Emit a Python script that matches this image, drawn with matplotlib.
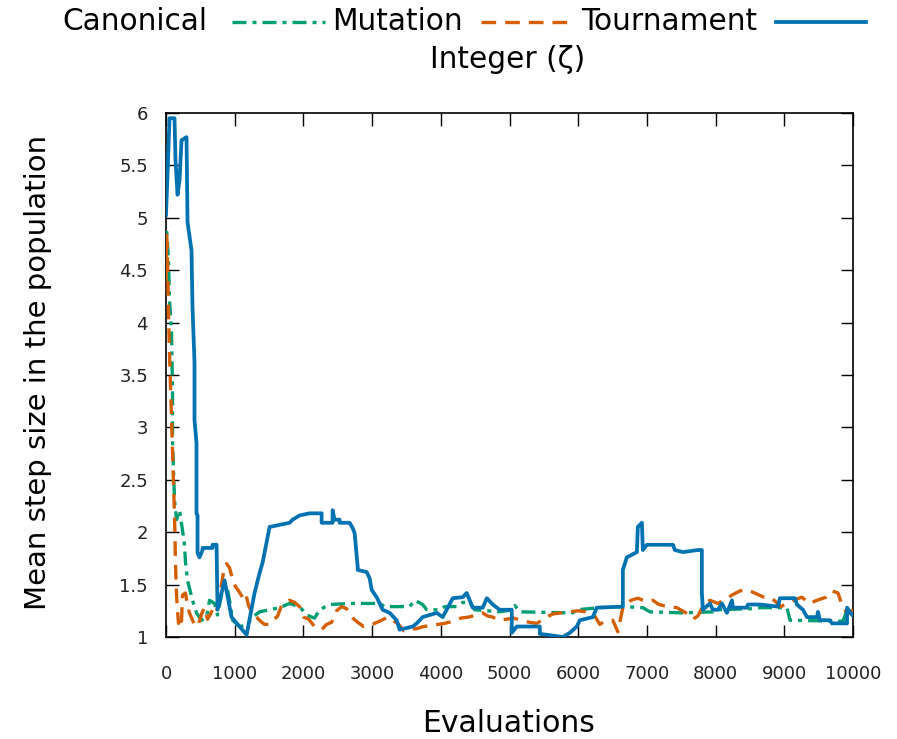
import matplotlib
matplotlib.use("Agg")
import matplotlib.pyplot as plt
from matplotlib.lines import Line2D

# ---------------- data ----------------
tour_x = [0, 22, 51, 124, 138, 168, 197, 226, 299, 313, 371, 386, 415, 415, 444, 444, 459, 459,
          488, 532, 532, 677, 677, 736, 750, 852, 954, 1173, 1289, 1362, 1406, 1508, 1799, 1843,
          1945, 2090, 2265, 2265, 2425, 2425, 2454, 2527, 2527, 2673, 2717, 2746, 2790, 2790,
          2921, 2964, 2994, 3066, 3154, 3256, 3358, 3401, 3591, 3649, 3736, 3940, 4028, 4174,
          4319, 4377, 4421, 4465, 4610, 4669, 4756, 4858, 5033, 5033, 5106, 5441, 5441, 5776,
          5878, 5980, 6024, 6213, 6271, 6650, 6650, 6708, 6854, 6868, 6927, 6941, 7000, 7378,
          7407, 7524, 7742, 7800, 7800, 7815, 7917, 7961, 8034, 8092, 8165, 8238, 8252, 8456,
          8470, 8645, 8907, 8936, 9155, 9184, 9272, 9330, 9476, 9490, 9519, 9665, 9694, 9913,
          9913, 9985, 10000]
tour_y = [5.03, 5.41, 5.95, 5.95, 5.55, 5.22, 5.36, 5.74, 5.77, 4.96, 4.69, 4.14, 3.62, 3.07,
          2.85, 2.18, 2.16, 1.80, 1.76, 1.83, 1.85, 1.85, 1.88, 1.88, 1.26, 1.54, 1.19, 1.02,
          1.42, 1.61, 1.71, 2.05, 2.09, 2.12, 2.16, 2.18, 2.18, 2.09, 2.09, 2.21, 2.12, 2.12,
          2.09, 2.09, 2.04, 1.99, 1.67, 1.64, 1.62, 1.56, 1.45, 1.38, 1.26, 1.23, 1.16, 1.07,
          1.10, 1.13, 1.19, 1.23, 1.19, 1.37, 1.38, 1.42, 1.35, 1.28, 1.28, 1.37, 1.31, 1.26,
          1.26, 1.04, 1.10, 1.10, 1.03, 1.00, 1.04, 1.10, 1.16, 1.19, 1.28, 1.29, 1.64, 1.76,
          1.81, 2.05, 2.09, 1.83, 1.88, 1.88, 1.83, 1.81, 1.83, 1.83, 1.42, 1.26, 1.32, 1.26,
          1.26, 1.32, 1.23, 1.35, 1.28, 1.28, 1.31, 1.31, 1.29, 1.37, 1.37, 1.31, 1.26, 1.19,
          1.19, 1.24, 1.16, 1.16, 1.13, 1.13, 1.28, 1.21, 1.21]

canon_x = [0, 7, 36, 51, 80, 95, 95, 109, 124, 153, 197, 240, 269, 284, 313, 386, 444, 517, 590,
           634, 706, 750, 823, 881, 925, 969, 1071, 1173, 1260, 1362, 1508, 1653, 1799, 1945,
           2047, 2163, 2236, 2381, 2673, 3110, 3183, 3547, 3620, 3736, 3795, 3984, 4057, 4232,
           4319, 4421, 4494, 4858, 5047, 5077, 5150, 5921, 5980, 6315, 6650, 6941, 7043, 7524,
           7961, 7990, 8543, 8645, 9039, 9083, 9854, 9898, 10000]
canon_y = [4.74, 4.90, 4.60, 4.22, 3.91, 3.36, 2.88, 2.59, 2.31, 2.12, 2.21, 2.02, 1.88, 1.71,
           1.54, 1.35, 1.23, 1.16, 1.19, 1.35, 1.32, 1.21, 1.45, 1.50, 1.35, 1.16, 1.10, 1.11,
           1.19, 1.24, 1.26, 1.28, 1.32, 1.29, 1.21, 1.18, 1.26, 1.31, 1.32, 1.32, 1.29, 1.29,
           1.35, 1.31, 1.26, 1.26, 1.29, 1.29, 1.33, 1.33, 1.26, 1.24, 1.26, 1.30, 1.24, 1.23,
           1.26, 1.28, 1.29, 1.28, 1.24, 1.23, 1.24, 1.26, 1.27, 1.28, 1.28, 1.16, 1.15, 1.23,
           1.23]

mut_x = [0, 10, 22, 36, 51, 65, 80, 95, 109, 124, 131, 138, 146, 153, 168, 182, 197, 226, 240,
         284, 313, 342, 386, 430, 473, 517, 561, 605, 648, 692, 736, 794, 838, 881, 925, 969,
         1012, 1056, 1114, 1158, 1202, 1260, 1318, 1377, 1435, 1508, 1566, 1624, 1682, 1740,
         1799, 1872, 1945, 2003, 2076, 2163, 2265, 2338, 2410, 2483, 2556, 2629, 2702, 2790,
         2877, 2950, 3037, 3139, 3227, 3300, 3387, 3460, 3547, 3649, 3751, 3853, 3955, 4057,
         4174, 4290, 4406, 4523, 4610, 4683, 4756, 4844, 4960, 5062, 5164, 5296, 5398, 5514,
         5630, 5747, 5863, 5994, 6125, 6242, 6315, 6388, 6504, 6577, 6650, 6766, 6868, 6985,
         7087, 7175, 7305, 7436, 7567, 7669, 7742, 7829, 7917, 8034, 8150, 8238, 8354, 8470,
         8600, 8703, 8819, 8950, 9068, 9170, 9257, 9359, 9476, 9607, 9694, 9781, 9854, 9927,
         10000]
mut_y = [4.40, 4.85, 4.60, 4.10, 3.70, 3.40, 3.05, 2.75, 2.45, 2.15, 1.95, 1.70, 1.55, 1.40,
         1.25, 1.13, 1.20, 1.15, 1.40, 1.42, 1.30, 1.23, 1.16, 1.10, 1.12, 1.22, 1.28, 1.17,
         1.22, 1.28, 1.24, 1.45, 1.62, 1.70, 1.66, 1.55, 1.48, 1.44, 1.38, 1.42, 1.30, 1.22,
         1.19, 1.15, 1.12, 1.12, 1.16, 1.20, 1.30, 1.33, 1.35, 1.33, 1.29, 1.19, 1.17, 1.10,
         1.07, 1.12, 1.14, 1.25, 1.29, 1.27, 1.19, 1.14, 1.10, 1.11, 1.13, 1.16, 1.19, 1.16,
         1.12, 1.06, 1.07, 1.08, 1.10, 1.11, 1.12, 1.13, 1.15, 1.18, 1.19, 1.21, 1.23, 1.20,
         1.19, 1.16, 1.17, 1.18, 1.16, 1.14, 1.13, 1.18, 1.22, 1.23, 1.24, 1.25, 1.24, 1.20,
         1.12, 1.15, 1.16, 1.05, 1.28, 1.35, 1.37, 1.34, 1.35, 1.31, 1.29, 1.28, 1.23, 1.17,
         1.20, 1.31, 1.35, 1.32, 1.36, 1.40, 1.44, 1.45, 1.41, 1.38, 1.37, 1.29, 1.33, 1.36,
         1.38, 1.32, 1.35, 1.38, 1.44, 1.42, 1.28, 1.22, 1.26]

series_labels = ["Canonical", "Mutation", "Tournament"]
legend_extra = "Integer (\u03b6)"
x_ticks = [0, 1000, 2000, 3000, 4000, 5000, 6000, 7000, 8000, 9000, 10000]
y_ticks = [1, 1.5, 2, 2.5, 3, 3.5, 4, 4.5, 5, 5.5, 6]
y_ticklabels = ["1", "1.5", "2", "2.5", "3", "3.5", "4", "4.5", "5", "5.5", "6"]

GREEN = "#009e73"
ORANGE = "#d55e00"
BLUE = "#0072b2"
GREEN_DASH = (4.2, 1.8, 1.2, 1.8)
ORANGE_DASH = (4.4, 2.7)

W, H = 897, 739
fig = plt.figure(figsize=(W / 100, H / 100), dpi=100)
ax = fig.add_axes([166 / W, 1 - 637 / H, (853 - 166) / W, (637 - 113) / H])

ax.plot(canon_x, canon_y, color=GREEN, lw=2.4, dashes=GREEN_DASH, zorder=3)
ax.plot(mut_x, mut_y, color=ORANGE, lw=2.4, dashes=ORANGE_DASH, zorder=4)
ax.plot(tour_x, tour_y, color=BLUE, lw=2.7, zorder=5)

ax.set_xlim(0, 10000)
ax.set_ylim(1, 6)
ax.set_xticks(x_ticks)
ax.set_xticklabels([str(v) for v in x_ticks])
ax.set_yticks(y_ticks)
ax.set_yticklabels(y_ticklabels)
ax.tick_params(direction="in", length=9, width=1.0, top=True, right=True,
               labelsize=13, colors="black", labelcolor="#222222")
ax.tick_params(axis="y", pad=13)
ax.tick_params(axis="x", pad=20)
for sp in ax.spines.values():
    sp.set_linewidth(1.2)

fig.text(509 / W, 1 - 723 / H, "Evaluations", ha="center", va="center", fontsize=21.5)
fig.text(38 / W, 1 - 372 / H, "Mean step size in the population", ha="center",
         va="center", rotation=90, fontsize=21)

# legend (gnuplot style: title then sample)
fy = 1 - 22 / H
fs = 21.3
fig.text(207 / W, fy, series_labels[0], ha="right", va="center", fontsize=fs)
fig.add_artist(Line2D([232 / W, 325 / W], [fy, fy], color=GREEN, lw=2.4,
                      dashes=GREEN_DASH, transform=fig.transFigure))
fig.text(463 / W, fy, series_labels[1], ha="right", va="center", fontsize=fs)
fig.add_artist(Line2D([481 / W, 567 / W], [fy, fy], color=ORANGE, lw=2.4,
                      dashes=ORANGE_DASH, transform=fig.transFigure))
fig.text(757 / W, fy, series_labels[2], ha="right", va="center", fontsize=fs)
fig.add_artist(Line2D([776 / W, 866 / W], [fy, fy], color=BLUE, lw=2.7,
                      transform=fig.transFigure))
fig.text(508 / W, 1 - 60 / H, legend_extra, ha="center", va="center", fontsize=fs)

fig.savefig("out.png", dpi=100)
